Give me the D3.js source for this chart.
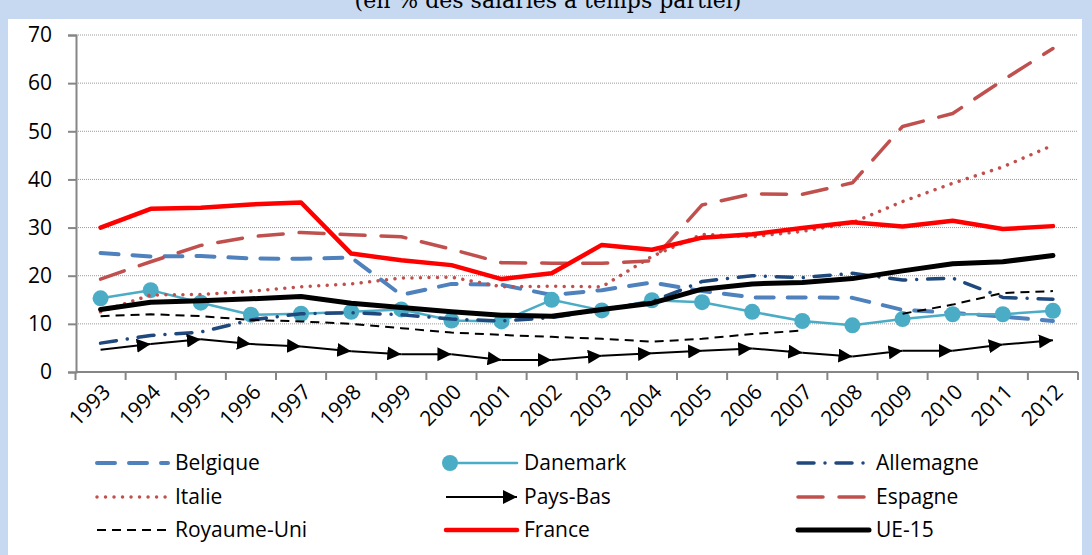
<!DOCTYPE html>
<html>
<head>
<meta charset="utf-8">
<script src="https://cdn.jsdelivr.net/npm/d3@7"></script>
<style>
  html, body { margin: 0; padding: 0; background: #c6d9f1; }
  svg { display: block; }
  text { font-family: "Open Sans", Lato, sans-serif; fill: #000; }
</style>
</head>
<body>
<svg id="chart" width="1092" height="555"></svg>
<script>
// Part-time employees, share (%) — EU-15 countries 1993-2012
const years = ["1993", "1994", "1995", "1996", "1997", "1998", "1999", "2000", "2001", "2002",
  "2003", "2004", "2005", "2006", "2007", "2008", "2009", "2010", "2011", "2012"];
const yTicks = [0, 10, 20, 30, 40, 50, 60, 70];

const belgique = [24.7, 24.0, 24.1, 23.6, 23.5, 23.8, 16.0, 18.3, 18.1, 16.0, 17.0, 18.6, 16.8, 15.5, 15.5, 15.4, 12.9, 12.3, 11.5, 10.6];
const danemark = [15.3, 17.0, 14.4, 11.9, 12.1, 12.5, 13.0, 10.7, 10.5, 15.0, 12.8, 14.9, 14.5, 12.5, 10.6, 9.7, 11.0, 12.0, 12.0, 12.7];
const allemagne = [6.0, 7.6, 8.3, 10.8, 12.1, 12.3, 11.9, 11.0, 10.6, 11.3, 12.9, 14.6, 18.8, 20.0, 19.6, 20.5, 19.1, 19.5, 15.5, 15.1];
const italie = [12.5, 16.0, 16.1, 16.8, 17.7, 18.3, 19.5, 19.7, 17.7, 17.8, 17.7, 24.0, 28.6, 28.1, 29.2, 31.0, 35.4, 39.2, 42.6, 47.1];
const paysBas = [4.6, 5.8, 6.8, 5.8, 5.3, 4.3, 3.7, 3.7, 2.5, 2.5, 3.4, 3.9, 4.4, 4.9, 4.0, 3.2, 4.4, 4.4, 5.7, 6.6];
const espagne = [19.3, 22.9, 26.3, 28.1, 29.0, 28.5, 28.1, 25.5, 22.7, 22.6, 22.6, 23.1, 34.7, 37.0, 36.9, 39.3, 51.0, 53.7, 60.6, 67.2];
const royaumeUni = [11.6, 12.0, 11.6, 10.8, 10.5, 10.0, 9.1, 8.2, 7.7, 7.3, 6.9, 6.3, 6.9, 7.9, 8.6, null, 12.1, 14.0, 16.4, 16.8];
const france = [30.0, 33.9, 34.1, 34.8, 35.2, 24.6, 23.2, 22.2, 19.3, 20.5, 26.4, 25.4, 27.9, 28.6, 29.9, 31.1, 30.2, 31.4, 29.7, 30.3];
const ue15 = [13.0, 14.5, 14.8, 15.2, 15.7, 14.3, 13.4, 12.5, 11.8, 11.6, 13.0, 14.3, 17.2, 18.3, 18.6, 19.4, 21.0, 22.5, 22.9, 24.2];

const seriesNames = ["Belgique", "Danemark", "Allemagne", "Italie", "Pays-Bas", "Espagne", "Royaume-Uni", "France", "UE-15"];

(function () {
  const svg = d3.select("#chart");

  // white chart area, title band stays blue
  svg.append("rect")
    .attr("x", 8).attr("y", 19)
    .attr("width", 1074).attr("height", 536)
    .attr("fill", "#fff");

  svg.append("text")
    .attr("x", 548).attr("y", 8)
    .attr("text-anchor", "middle")
    .style("font-family", "'DejaVu Serif', serif")
    .style("font-size", "22px")
    .text("(en % des salariés à temps partiel)");

  const x = d3.scaleBand().domain(years).range([75.5, 1078]);
  const y = d3.scaleLinear().domain([0, 70]).range([372, 35]);
  const cx = (i) => x(years[i]) + x.bandwidth() / 2;

  const axisColor = "#868686";

  // gridlines
  svg.append("g")
    .selectAll("line")
    .data(yTicks.filter((d) => d > 0))
    .join("line")
    .attr("x1", 76).attr("x2", 1078)
    .attr("y1", (d) => y(d)).attr("y2", (d) => y(d))
    .attr("stroke", "#9a9a9a")
    .attr("stroke-width", 1)
    .attr("stroke-dasharray", "1,1");

  // y axis
  const yAxis = svg.append("g")
    .attr("transform", "translate(76,0)")
    .call(d3.axisLeft(y).tickValues(yTicks).tickSize(8).tickPadding(16));
  yAxis.select(".domain").attr("stroke", axisColor).attr("stroke-width", 2);
  yAxis.selectAll(".tick line").attr("stroke", axisColor).attr("stroke-width", 2);
  yAxis.selectAll("text")
    .attr("font-family", null)
    .style("font-size", "21px")
    .attr("fill", "#000");

  // x axis: ticks between categories
  const xAxis = svg.append("g").attr("transform", "translate(0,372)");
  xAxis.append("line")
    .attr("x1", 75.5).attr("x2", 1078)
    .attr("stroke", axisColor).attr("stroke-width", 2);
  xAxis.selectAll("line.tk")
    .data(d3.range(years.length + 1))
    .join("line")
    .attr("class", "tk")
    .attr("x1", (i) => 75.5 + i * x.step())
    .attr("x2", (i) => 75.5 + i * x.step())
    .attr("y1", 0).attr("y2", 8)
    .attr("stroke", axisColor).attr("stroke-width", 2);
  xAxis.selectAll("text")
    .data(years)
    .join("text")
    .attr("transform", (d) => `translate(${x(d) + x.bandwidth() / 2 + 6},${16}) rotate(-45)`)
    .attr("text-anchor", "end")
    .attr("dy", "0.35em")
    .style("font-size", "21px")
    .text((d) => d);

  // arrow marker for Pays-Bas
  svg.append("defs").append("marker")
    .attr("id", "arrow")
    .attr("viewBox", "0 0 14 14")
    .attr("refX", 14).attr("refY", 7)
    .attr("markerWidth", 14).attr("markerHeight", 14)
    .attr("markerUnits", "userSpaceOnUse")
    .attr("orient", "auto")
    .append("path")
    .attr("d", "M0,0L14,7L0,14Z")
    .attr("fill", "#000");

  const styles = {
    "Belgique": { data: belgique, color: "#4f81bd", width: 4, dash: "18,14", cap: "round" },
    "Danemark": { data: danemark, color: "#4bacc6", width: 2.5, dash: null, cap: "round", dots: true },
    "Allemagne": { data: allemagne, color: "#1f497d", width: 3.5, dash: "16,11,0.01,11", cap: "round" },
    "Italie": { data: italie, color: "#c0504d", width: 3.5, dash: "0.01,8.5", cap: "round" },
    "Pays-Bas": { data: paysBas, color: "#000", width: 2, dash: null, cap: "butt", arrows: true },
    "Espagne": { data: espagne, color: "#c0504d", width: 3.5, dash: "25,16", cap: "round" },
    "Royaume-Uni": { data: royaumeUni, color: "#000", width: 2, dash: "9,6", cap: "butt" },
    "France": { data: france, color: "#ff0000", width: 4.5, dash: null, cap: "round" },
    "UE-15": { data: ue15, color: "#000", width: 5, dash: null, cap: "round" },
  };

  const line = d3.line()
    .defined((d) => d != null)
    .x((d, i) => cx(i))
    .y((d) => y(d));

  const plot = svg.append("g");
  seriesNames.forEach((name) => {
    const s = styles[name];
    if (s.arrows) {
      const segs = d3.pairs(s.data.map((v, i) => [cx(i), y(v)]));
      plot.append("g")
        .selectAll("line")
        .data(segs)
        .join("line")
        .attr("x1", (d) => d[0][0]).attr("y1", (d) => d[0][1])
        .attr("x2", (d) => d[1][0]).attr("y2", (d) => d[1][1])
        .attr("stroke", s.color)
        .attr("stroke-width", s.width)
        .attr("marker-end", "url(#arrow)");
      return;
    }
    plot.append("path")
      .datum(s.data)
      .attr("d", line)
      .attr("fill", "none")
      .attr("stroke", s.color)
      .attr("stroke-width", s.width)
      .attr("stroke-linecap", s.cap)
      .attr("stroke-linejoin", "round")
      .attr("stroke-dasharray", s.dash);
    if (s.dots) {
      plot.append("g")
        .selectAll("circle")
        .data(s.data)
        .join("circle")
        .attr("cx", (d, i) => cx(i))
        .attr("cy", (d) => y(d))
        .attr("r", 8)
        .attr("fill", s.color);
    }
  });

  // legend, 3 columns x 3 rows
  const colX = [97, 446, 798];
  const rowY = [463, 497, 530];
  const legend = svg.append("g")
    .selectAll("g")
    .data(seriesNames)
    .join("g")
    .attr("transform", (d, i) => `translate(${colX[i % 3]},${rowY[Math.floor(i / 3)]})`);

  legend.each(function (name) {
    const s = styles[name];
    const g = d3.select(this);
    const len = 71;
    g.append("line")
      .attr("x1", 0).attr("x2", len)
      .attr("stroke", s.color)
      .attr("stroke-width", s.width)
      .attr("stroke-linecap", s.cap)
      .attr("stroke-dasharray", s.dash)
      .attr("marker-end", s.arrows ? "url(#arrow)" : null);
    if (s.dots) g.append("circle").attr("cx", 4).attr("r", 8).attr("fill", s.color);
    g.append("text")
      .attr("x", len + 7)
      .attr("dy", "0.35em")
      .style("font-size", "21px")
      .text(name);
  });
})();
</script>
</body>
</html>
